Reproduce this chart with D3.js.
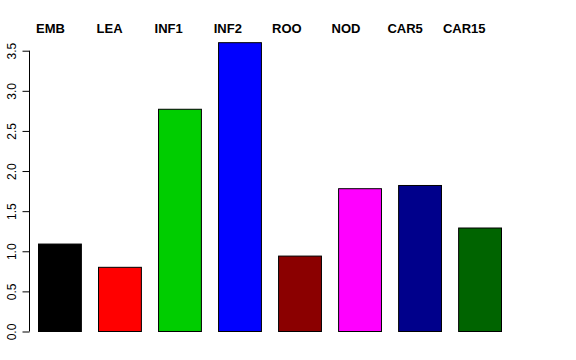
<!DOCTYPE html>
<head>
  <meta charset="utf-8">
  <script src="https://d3js.org/d3.v7.min.js"></script>
  <style>
    body { margin:0; background:#fff; }
    svg { display:block; font-family: "Liberation Sans", Arial, sans-serif; }
  </style>
</head>
<body>
  <script type='text/javascript'>
    var categories = ["EMB", "LEA", "INF1", "INF2", "ROO", "NOD", "CAR5", "CAR15"];
    var values = [1.09, 0.80, 2.77, 3.60, 0.94, 1.78, 1.82, 1.29];
    var barColors = ["#000000", "#FF0000", "#00CD00", "#0000FF", "#8B0000", "#FF00FF", "#00008B", "#006400"];
    var yTicks = [0, 0.5, 1, 1.5, 2, 2.5, 3, 3.5];

    var width = 576, height = 360;

    var svg = d3.select('body').append('svg')
      .attr('width', width)
      .attr('height', height);

    // bars: width 1, space 0.4 like barplot(space = 0.4)
    var x = d3.scaleBand()
      .domain(categories)
      .range([38, 501])
      .paddingInner(0.4 / 1.4)
      .paddingOuter(0);

    var y = d3.scaleLinear()
      .domain([0, 3.5])
      .range([331.5, 50.7]);

    svg.selectAll('rect.bar')
      .data(values).enter().append('rect')
      .attr('class', 'bar')
      .attr('x', (d, i) => x(categories[i]) + 0.5)
      .attr('y', d => y(d))
      .attr('width', x.bandwidth())
      .attr('height', d => y(0) - y(d))
      .attr('fill', (d, i) => barColors[i])
      .attr('stroke', '#000')
      .attr('stroke-width', 1);

    // y axis
    var yAxis = d3.axisLeft(y)
      .tickValues(yTicks)
      .tickFormat(d3.format('.1f'))
      .tickSize(7)
      .tickPadding(0);

    var axis = svg.append('g')
      .attr('transform', 'translate(29.5, 0)')
      .call(yAxis);

    axis.select('.domain')
      .attr('d', 'M0,' + y(0) + 'V' + y(3.5))
      .attr('stroke', '#000');
    axis.selectAll('.tick line').attr('stroke', '#000');
    axis.selectAll('.tick text')
      .attr('transform', 'translate(-14, 0) rotate(-90)')
      .attr('x', 0)
      .attr('dy', 0)
      .attr('text-anchor', 'middle')
      .attr('font-size', 12)
      .attr('font-family', '"Liberation Sans", Arial, sans-serif')
      .attr('fill', '#000');

    // top labels, evenly spaced and centred (a bit tighter than the bars)
    var labelStep = 59.1;
    svg.selectAll('text.lab')
      .data(categories).enter().append('text')
      .attr('class', 'lab')
      .attr('x', (d, i) => 50.5 + i * labelStep)
      .attr('y', 33)
      .attr('text-anchor', 'middle')
      .attr('font-size', 13)
      .attr('font-weight', 'bold')
      .attr('fill', '#000')
      .text(d => d);
  </script>
</body>
